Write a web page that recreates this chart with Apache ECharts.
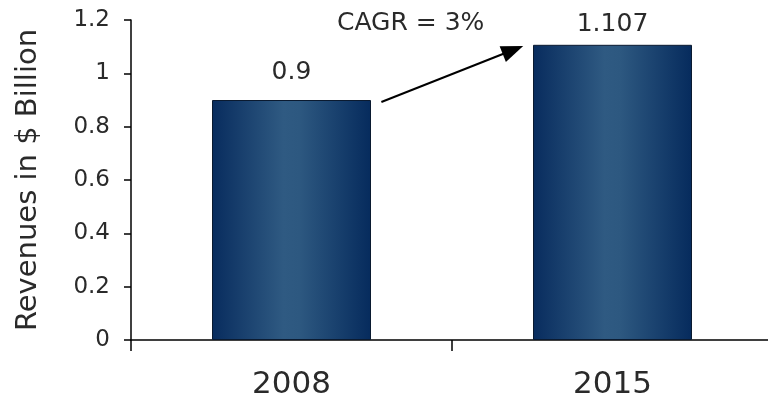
<!DOCTYPE html>
<html>
<head>
<meta charset="utf-8">
<script src="https://cdn.jsdelivr.net/npm/echarts@6/dist/echarts.min.js"></script>
<style>html,body{margin:0;padding:0;background:#fff;}#c{width:768px;height:402px;}</style>
</head>
<body>
<div id="c"></div>
<script>
const categories = ['2008', '2015'];
const revenues = [0.9, 1.107];
const yTicks = [0, 0.2, 0.4, 0.6, 0.8, 1, 1.2];
// arrow annotation endpoints in (category position, value) space
const arrowStart = [0.28, 0.8925];
const arrowEnd = [0.69, 1.0875];
const cagrText = 'CAGR = 3%';

const font = 'DejaVu Sans, Verdana, sans-serif';
const labelDistances = [15, 8];
const chart = echarts.init(document.getElementById('c'));
chart.setOption({
  animation: false,
  grid: { left: 131, width: 642, top: 20, bottom: 62, containLabel: false, outerBoundsMode: 'none' },
  xAxis: [{
    type: 'category',
    data: categories,
    axisLine: { lineStyle: { color: '#000', width: 1.5 } },
    axisTick: { show: true, interval: 0, length: 11, lineStyle: { color: '#000', width: 1.5 } },
    axisLabel: { fontFamily: font, fontSize: 31, color: '#2a2a2a', margin: 29 }
  }, {
    type: 'value', min: -0.5, max: 1.5, show: false
  }],
  yAxis: {
    type: 'value', min: 0, max: 1.2, interval: 0.2,
    name: 'Revenues in $ Billion',
    nameLocation: 'middle', nameGap: 88,
    nameTextStyle: { fontFamily: font, fontSize: 29, color: '#2a2a2a' },
    axisLine: { show: true, onZero: false, lineStyle: { color: '#000', width: 1.5 } },
    axisTick: { show: true, length: 7, lineStyle: { color: '#000', width: 1.5 } },
    splitLine: { show: false },
    axisLabel: {
      fontFamily: font, fontSize: 23, color: '#2a2a2a', margin: 21,
      formatter: v => { const t = yTicks.find(x => Math.abs(x - v) < 1e-9); return t === undefined ? '' : String(t); }
    }
  },
  series: [{
    type: 'bar',
    data: revenues.map((v, i) => ({ value: v, label: { distance: labelDistances[i] } })),
    barWidth: 159,
    itemStyle: {
      color: new echarts.graphic.LinearGradient(0, 0, 1, 0, [
        { offset: 0, color: '#082c5e' },
        { offset: 0.45, color: '#2f5a82' },
        { offset: 0.55, color: '#2d5880' },
        { offset: 1, color: '#062b5d' }
      ]),
      borderColor: '#0a1a30', borderWidth: 1
    },
    label: {
      show: true, position: 'top',
      fontFamily: font, fontSize: 25, color: '#2a2a2a'
    }
  }, {
    type: 'line',
    xAxisIndex: 1,
    data: [],
    markLine: {
      silent: true,
      symbol: ['none', 'triangle'],
      symbolSize: [17, 22],
      label: { show: false },
      lineStyle: { color: '#000', width: 2, type: 'solid' },
      data: [[{ coord: arrowStart }, { coord: arrowEnd }]]
    }
  }],
  graphic: [{
    type: 'text', left: 337, top: 11,
    style: { text: cagrText, fontFamily: font, fontSize: 25, fill: '#2a2a2a' }
  }]
});
</script>
</body>
</html>
